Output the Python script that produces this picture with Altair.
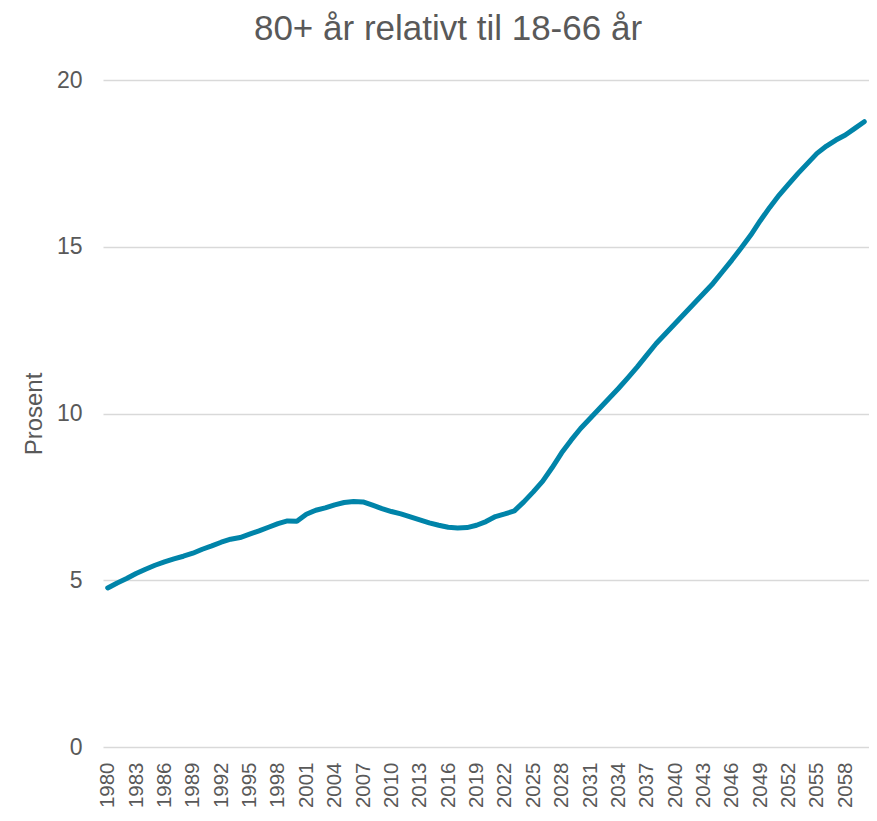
import altair as alt
import pandas as pd

years = list(range(1980, 2061))
values = [
    4.77, 4.92, 5.05, 5.20, 5.33, 5.45, 5.55, 5.64, 5.72, 5.81,   # 1980-1989
    5.93, 6.03, 6.14, 6.23, 6.28, 6.38, 6.48, 6.59, 6.70, 6.78,   # 1990-1999
    6.77, 6.98, 7.10, 7.17, 7.26, 7.33, 7.36, 7.35, 7.25, 7.15,   # 2000-2009
    7.06, 6.99, 6.90, 6.81, 6.72, 6.65, 6.59, 6.57, 6.58, 6.65,   # 2010-2019
    6.76, 6.91, 6.99, 7.08, 7.35, 7.65, 7.97, 8.38, 8.82, 9.20,   # 2020-2029
    9.55, 9.85, 10.15, 10.45, 10.75, 11.07, 11.40, 11.75, 12.10, 12.40,  # 2030-2039
    12.70, 13.00, 13.30, 13.60, 13.90, 14.25, 14.60, 14.97, 15.35, 15.78,  # 2040-2049
    16.18, 16.55, 16.88, 17.20, 17.50, 17.80, 18.02, 18.20, 18.35, 18.55,  # 2050-2059
    18.75,  # 2060
]
tick_years = list(range(1980, 2061, 3))
y_ticks = [0, 5, 10, 15, 20]

df = pd.DataFrame({"year": years, "value": values})

FONT = "Liberation Sans"
GRAY = "#595959"

chart = (
    alt.Chart(df)
    .mark_line(color="#0084A9", strokeWidth=5, strokeJoin="round", strokeCap="round")
    .encode(
        x=alt.X(
            "year:O",
            scale=alt.Scale(type="point", padding=0.5),
            axis=alt.Axis(
                title=None,
                values=tick_years,
                labelAngle=-90,
                labelFontSize=20.5,
                labelColor=GRAY,
                labelFont=FONT,
                ticks=False,
                domain=False,
                grid=False,
                labelPadding=15,
            ),
        ),
        y=alt.Y(
            "value:Q",
            scale=alt.Scale(domain=[0, 20], nice=False),
            axis=alt.Axis(
                title="Prosent",
                values=y_ticks,
                titleFontSize=24,
                titleFont=FONT,
                titleColor=GRAY,
                titleFontWeight="normal",
                titlePadding=10,
                labelFontSize=23,
                labelColor=GRAY,
                labelFont=FONT,
                labelPadding=21,
                ticks=False,
                domain=False,
                grid=True,
                gridColor="#D9D9D9",
                gridWidth=1.5,
            ),
        ),
    )
    .properties(
        width=766,
        height=667,
        autosize=alt.AutoSizeParams(type="none"),
        padding={"left": 95, "top": 72, "right": 0, "bottom": 66},
        title=alt.TitleParams(
            "80+ år relativt til 18-66 år",
            font=FONT,
            fontSize=35,
            fontWeight="normal",
            color=GRAY,
            anchor="middle",
            dx=-38,
            offset=22,
        ),
    )
    .configure_view(stroke=None)
)

chart.save("out.html", embed_options={"renderer": "svg", "actions": False})
